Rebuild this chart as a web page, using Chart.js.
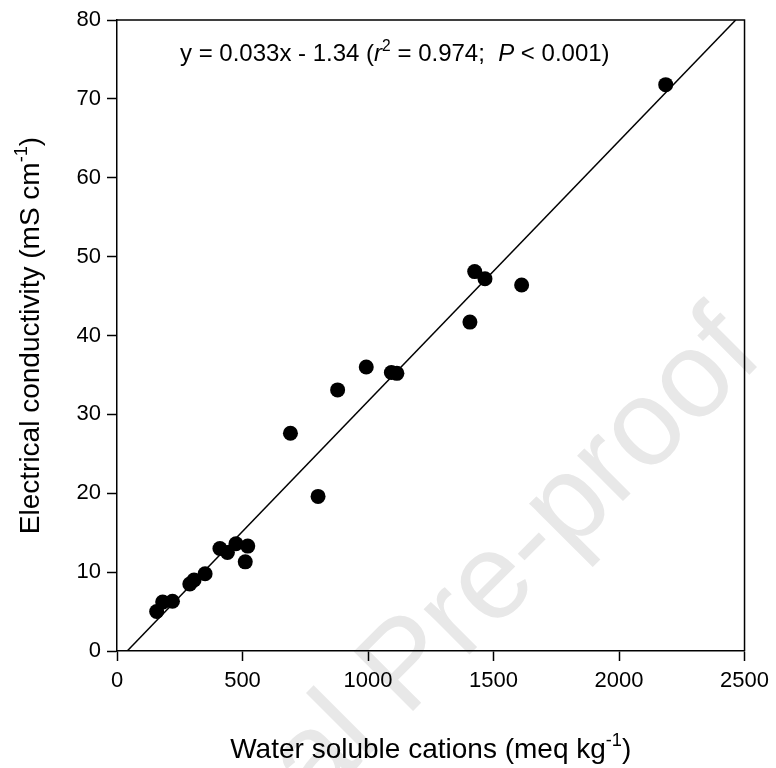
<!DOCTYPE html>
<html>
<head>
<meta charset="utf-8">
<script src="https://cdn.jsdelivr.net/npm/chart.js@4/dist/chart.umd.min.js"></script>
<style>
  html, body { margin: 0; padding: 0; background: #fff; }
  #wrap { width: 776px; height: 768px; }
</style>
</head>
<body>
<div id="wrap"><canvas id="ec"></canvas></div>
<script>
// water soluble cations (meq/kg) vs electrical conductivity (mS/cm)
let cations = [158, 182, 221, 290, 307, 351, 410, 440, 474, 521, 511, 691, 801, 879, 993, 1093, 1115, 1406, 1425, 1466, 1612, 2186];
let ecValues = [5.0, 6.2, 6.3, 8.5, 9.0, 9.8, 13.0, 12.5, 13.6, 13.3, 11.3, 27.6, 19.6, 33.1, 36.0, 35.3, 35.2, 41.7, 48.1, 47.2, 46.4, 71.8];

// regression reported in the figure
let slope = 0.033;
let intercept = -1.34;

let xTicks = [0, 500, 1000, 1500, 2000, 2500];
let yTicks = [0, 10, 20, 30, 40, 50, 60, 70, 80];

const FONT = '"Liberation Sans", Arial, sans-serif';

let points = cations.map((c, i) => ({x: c, y: ecValues[i]}));

// fitted line between the points where it meets the y-axis limits
let yLo = yTicks[0], yHi = yTicks[yTicks.length - 1];
let fitLine = [
    {x: (yLo - intercept) / slope, y: yLo},
    {x: (yHi - intercept) / slope, y: yHi}
];

// draws a run of text pieces, some italic or raised
function drawRich(ctx, parts, x, y, size, align) {
    let widths = parts.map(p => {
        ctx.font = (p.it ? 'italic ' : '') + (p.sup ? size * 0.65 : size) + 'px ' + FONT;
        return ctx.measureText(p.t).width;
    });
    let total = widths.reduce((a, b) => a + b, 0);
    let cx = align === 'center' ? x - total / 2 : x;
    parts.forEach((p, i) => {
        ctx.font = (p.it ? 'italic ' : '') + (p.sup ? size * 0.65 : size) + 'px ' + FONT;
        ctx.fillText(p.t, cx, p.sup ? y - size * 0.42 : y);
        cx += widths[i];
    });
}

const extras = {
    id: 'extras',
    beforeDraw(chart) {
        // "Journal Pre-proof" watermark
        const ctx = chart.ctx;
        ctx.save();
        ctx.translate(406, 718);
        ctx.rotate(-Math.PI / 4);
        ctx.fillStyle = '#e8e8e8';
        ctx.font = '122px ' + FONT;
        ctx.textBaseline = 'alphabetic';
        ctx.textAlign = 'right';
        ctx.fillText('Journal ', 0, 0);
        ctx.textAlign = 'left';
        ctx.fillText('Pre-proof', 0, 0);
        ctx.restore();
    },
    afterDatasetsDraw(chart) {
        const ctx = chart.ctx;
        const a = chart.chartArea;
        ctx.save();
        ctx.strokeStyle = '#000';
        ctx.lineWidth = 1.5;
        ctx.beginPath();
        ctx.moveTo(a.left, a.top);
        ctx.lineTo(a.right, a.top);
        ctx.lineTo(a.right, a.bottom);
        ctx.stroke();

        ctx.fillStyle = '#000';
        ctx.textBaseline = 'alphabetic';
        ctx.textAlign = 'left';
        drawRich(ctx, [
            {t: 'y = 0.033x - 1.34 ('},
            {t: 'r', it: true},
            {t: '2', sup: true},
            {t: ' = 0.974;  '},
            {t: 'P', it: true},
            {t: ' < 0.001)'}
        ], 180, 61, 24, 'left');

        drawRich(ctx, [
            {t: 'Water soluble cations (meq kg'},
            {t: '-1', sup: true},
            {t: ')'}
        ], (a.left + a.right) / 2, 758, 28, 'center');

        ctx.translate(39, (a.top + a.bottom) / 2);
        ctx.rotate(-Math.PI / 2);
        drawRich(ctx, [
            {t: 'Electrical conductivity (mS cm'},
            {t: '-1', sup: true},
            {t: ')'}
        ], 0, 0, 28, 'center');
        ctx.restore();
    }
};

const ctx = document.getElementById('ec').getContext('2d');
const myChart = new Chart(ctx, {
    type: 'scatter',
    data: {
        datasets: [
            {
                label: 'samples',
                data: points,
                backgroundColor: '#000',
                borderColor: '#000',
                pointRadius: 7.5,
                pointBorderWidth: 0,
                pointHoverRadius: 7.5,
                order: 1
            },
            {
                label: 'fit',
                type: 'line',
                data: fitLine,
                borderColor: '#000',
                borderWidth: 1.5,
                pointRadius: 0,
                fill: false,
                order: 2
            }
        ]
    },
    plugins: [extras],
    options: {
        responsive: true,
        maintainAspectRatio: false,
        animation: false,
        layout: {
            padding: {top: 20, right: 30, left: 0, bottom: 0}
        },
        scales: {
            x: {
                type: 'linear',
                min: 0,
                max: 2500,
                afterBuildTicks: s => { s.ticks = xTicks.map(v => ({value: v})); },
                afterFit: s => { s.height = 117; },
                border: {display: true, color: '#000', width: 1.5},
                grid: {drawOnChartArea: false, tickColor: '#000', tickWidth: 1.5, tickLength: 10},
                ticks: {
                    color: '#000',
                    font: {family: FONT, size: 22},
                    padding: 7,
                    maxRotation: 0,
                    callback: v => String(v)
                }
            },
            y: {
                type: 'linear',
                min: 0,
                max: 80,
                afterBuildTicks: s => { s.ticks = yTicks.map(v => ({value: v})); },
                afterFit: s => { s.width = 117; },
                border: {display: true, color: '#000', width: 1.5},
                grid: {drawOnChartArea: false, tickColor: '#000', tickWidth: 1.5, tickLength: 10},
                ticks: {
                    color: '#000',
                    font: {family: FONT, size: 22},
                    padding: 6,
                    callback: v => String(v)
                }
            }
        },
        plugins: {
            legend: {display: false},
            tooltip: {enabled: false}
        }
    }
});
</script>
</body>
</html>
